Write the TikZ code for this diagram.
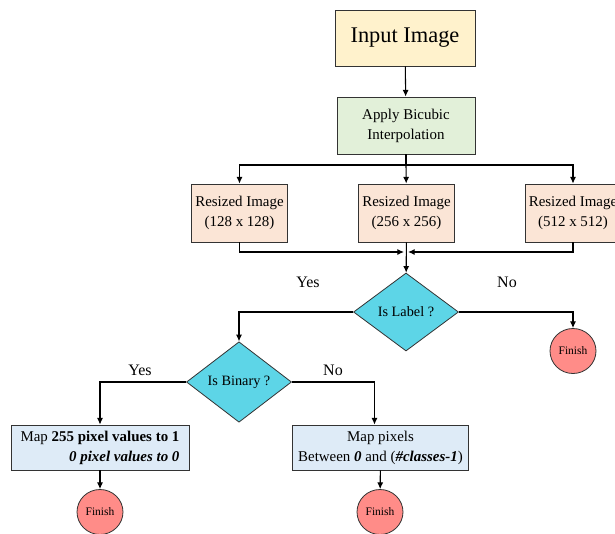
\documentclass[tikz,border=0pt]{standalone}
\usepackage{fontspec}
\setmainfont{Liberation Serif}
\usetikzlibrary{shapes.geometric,arrows.meta,positioning}
\definecolor{inputcol}{HTML}{FFF2CC}
\definecolor{interpcol}{HTML}{E2F0D9}
\definecolor{sizecol}{HTML}{FBE5D6}
\definecolor{decidecol}{HTML}{5DD5E7}
\definecolor{mapcol}{HTML}{DEEBF7}
\definecolor{finishcol}{HTML}{FF8C88}
\begin{document}
\begin{tikzpicture}[
		x=0.75pt, y=-0.75pt,
		box/.style={draw=black!80, line width=0.6pt, align=center, inner sep=2pt, font=\fontsize{11.2}{15}\selectfont},
		decide/.style={draw=black!80, line width=0.6pt, diamond, fill=decidecol, inner sep=1pt, minimum width=78.75pt, minimum height=58.5pt, font=\fontsize{10.7}{13}\selectfont},
		finish/.style={draw=black!80, line width=0.6pt, ellipse, fill=finishcol, inner sep=0pt, minimum width=34.5pt, minimum height=33.75pt, font=\fontsize{8.6}{10}\selectfont},
		answer/.style={font=\fontsize{12}{14}\selectfont},
		line/.style={line width=0.8pt, -{Latex[length=5pt,width=4.5pt]}}
		]
		\useasboundingbox (0,0) rectangle (615,533);
		% Steps
		\node[box, fill=inputcol, minimum width=105pt, minimum height=42pt, font=\fontsize{16.8}{20}\selectfont] (input) at (405,38) {Input Image};
		\node[box, fill=interpcol, minimum width=103.5pt, minimum height=42.75pt] (bicubic) at (406,125.5) {Apply Bicubic\\Interpolation};
		\node[box, fill=sizecol, minimum width=72pt, minimum height=43.5pt] (r128) at (239.5,213) {Resized Image\\(128 x 128)};
		\node[box, fill=sizecol, minimum width=72pt, minimum height=43.5pt] (r256) at (406.5,213) {Resized Image\\(256 x 256)};
		\node[box, fill=sizecol, minimum width=72pt, minimum height=43.5pt] (r512) at (573,213) {Resized Image\\(512 x 512)};
		\node[decide] (islabel) at (406,312) {Is Label ?};
		\node[finish] (fin1) at (573,351) {Finish};
		\node[decide] (isbinary) at (239,382) {Is Binary ?};
		\node[box, fill=mapcol, minimum width=133.5pt, minimum height=33.75pt, align=right] (mapbin) at (100,447.5) {Map \textbf{255 pixel values to 1}\\\textbf{\textit{0 pixel values to 0}}};
		\node[box, fill=mapcol, minimum width=132pt, minimum height=33.75pt] (mapcls) at (380.5,447.5) {Map pixels\\Between \textbf{\textit{0}} and (\textbf{\textit{\#classes-1}})};
		\node[finish] (fin2) at (100,512) {Finish};
		\node[finish] (fin3) at (380,512) {Finish};

		% Labels
		\node[answer] (yes1) at (308,282) {Yes};
		\node[answer] (no1) at (507,282) {No};
		\node[answer] (yes2) at (140,370) {Yes};
		\node[answer] (no2) at (333,370) {No};

		% Arrows
		\coordinate (split) at (406,165);
		\coordinate (merge) at (406,252);
		\draw[line] (input) -- (bicubic);
		\draw[line width=0.8pt] (bicubic) -- (split);
		\draw[line] (split) -| (r128);
		\draw[line] (split) -- (r256);
		\draw[line] (split) -| (r512);
		\draw[line, shorten >=1.5pt] (r128) |- (merge);
		\draw[line, shorten >=1.5pt] (r512) |- (merge);
		\draw[line] (r256) -- (islabel);
		\draw[line] (islabel.west) -| (isbinary.north);
		\draw[line] (islabel.east) -| (fin1.north);
		\draw[line] (isbinary.west) -| (mapbin.north);
		\draw[line] (isbinary.east) -| ([xshift=-4.5pt]mapcls.north);
		\draw[line] (mapbin) -- (fin2);
		\draw[line] (mapcls) -- (fin3);
	\end{tikzpicture}
\end{document}
